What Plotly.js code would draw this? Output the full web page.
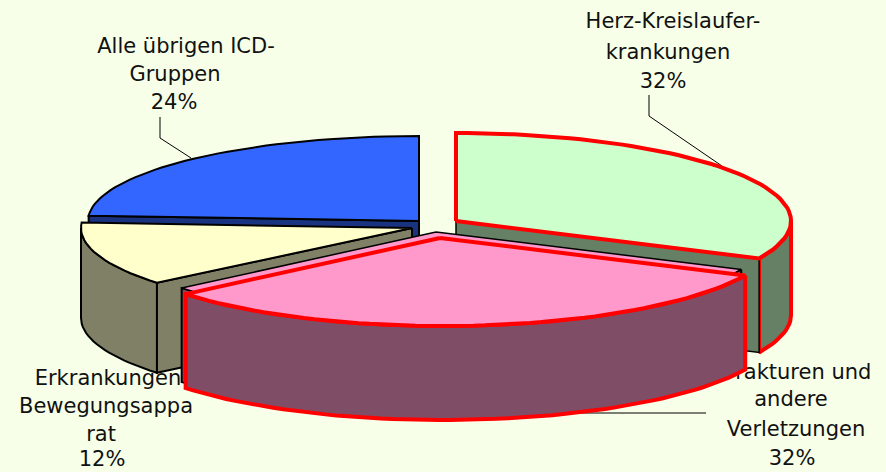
<!DOCTYPE html>
<html><head><meta charset="utf-8">
<script src="https://cdn.plot.ly/plotly-3.0.1.min.js"></script>
<style>html,body{margin:0;padding:0;background:#F7FFE8;overflow:hidden}</style>
</head><body><div id="chart" style="width:886px;height:472px"></div>
<script>
// Data
const categories = ['Herz-Kreislauferkrankungen', 'Frakturen und andere Verletzungen', 'Erkrankungen Bewegungsapparat', 'Alle übrigen ICD-Gruppen'];
const values = [32, 32, 12, 24];
const labelLines = [
  ['Herz-Kreislaufer-', 'krankungen', '32%'],
  ['Frakturen und', 'andere', 'Verletzungen', '32%'],
  ['Erkrankungen', 'Bewegungsappa', 'rat', '12%'],
  ['Alle übrigen ICD-', 'Gruppen', '24%']
];
const topColors = ['#CCFFCC', '#FF99CC', '#FFFFCC', '#3366FF'];
const sideColors = ['#668066', '#804D66', '#808066', '#1A3380'];

// Projection of the 3-D pie and placement of labels
const RX = [335, 334, 331, 331], RY = [88, 88, 86, 85], DEPTH = [94, 94, 90, 90];
const apex = [[456, 221], [440, 238], [412, 228], [419, 221]];
const arcShift = [0, 3, 0, 0];
const labelX = [[673, 668, 663], [798, 791, 796, 792], [108, 106, 101, 102], [186, 175, 174]];
const labelY = [[23, 54, 83], [374, 401, 431, 460], [380, 408, 436, 461], [48, 76, 104]];
const RED = '#FF0000', BLACK = '#000000';

const total = values.reduce((a, b) => a + b, 0);
let cum = 0;
const spans = values.map(v => { const s = cum / total * 360; cum += v; return [s, cum / total * 360]; });
const pt = (i, deg, dx = 0, dy = 0) => {
  const r = deg * Math.PI / 180;
  return [apex[i][0] + arcShift[i] + dx + RX[i] * Math.sin(r), apex[i][1] + dy - RY[i] * Math.cos(r)];
};
const arc = (i, a, b, dx, dy) => {
  const out = [], n = Math.max(2, Math.ceil(Math.abs(b - a) / 2));
  for (let k = 0; k <= n; k++) out.push(pt(i, a + (b - a) * k / n, dx, dy));
  return out;
};
const poly = (pts, fill, line, width, close = true) => {
  const p = close ? pts.concat([pts[0]]) : pts;
  return {
    type: 'scatter', mode: 'lines', x: p.map(q => q[0]), y: p.map(q => q[1]),
    fill: fill ? 'toself' : 'none', fillcolor: fill || 'rgba(0,0,0,0)',
    line: { color: line, width: width, shape: 'linear' }, hoverinfo: 'skip', showlegend: false
  };
};
const topFace = (i, line, w, dx = 0, dy = 0) =>
  poly([[apex[i][0] + dx, apex[i][1] + dy]].concat(arc(i, spans[i][0], spans[i][1], dx, dy)), topColors[i], line, w);
const sideFace = (i, line, w, dx = 0, dy = 0) => {
  const a = Math.max(spans[i][0], 90), b = Math.min(spans[i][1], 270);
  const t = arc(i, a, b, dx, dy);
  const bot = t.map(q => [q[0], q[1] + DEPTH[i]]).reverse();
  return poly(t.concat(bot), sideColors[i], line, w);
};
const cutFace = (i, deg, line, w) => {
  const c = pt(i, deg);
  return poly([apex[i], c, [c[0], c[1] + DEPTH[i]], [apex[i][0], apex[i][1] + DEPTH[i]]], sideColors[i], line, w);
};
const labelTrace = i => ({
  type: 'scatter', mode: 'text', x: labelX[i], y: labelY[i], text: labelLines[i],
  textposition: 'middle center', cliponaxis: false,
  textfont: { family: '"DejaVu Sans", sans-serif', size: 21, color: '#111111' },
  hoverinfo: 'skip', showlegend: false
});
const leader = (xs, ys) => ({
  type: 'scatter', mode: 'lines', x: xs, y: ys,
  line: { color: BLACK, width: 1 }, hoverinfo: 'skip', showlegend: false
});

const traces = [
  leader([160, 160, 191], [117, 138, 158]),
  leader([649, 649, 722], [95, 116, 166]),
  leader([560, 706], [413, 413]),
  labelTrace(0), labelTrace(1), labelTrace(3),
  // blue slice (back left)
  cutFace(3, spans[3][0], BLACK, 2),
  topFace(3, BLACK, 2),
  // yellow slice
  sideFace(2, BLACK, 2),
  cutFace(2, spans[2][0], BLACK, 2),
  topFace(2, BLACK, 2),
  // green slice
  sideFace(0, RED, 4),
  cutFace(0, spans[0][1], BLACK, 1.5),
  topFace(0, RED, 4),
  labelTrace(2),
  // pink slice: black copy behind, red on top
  sideFace(1, BLACK, 2, -4, -6),
  topFace(1, BLACK, 1.5, -4, -6),
  sideFace(1, RED, 4),
  topFace(1, RED, 4)
];
const hidden = { visible: false, fixedrange: true };
Plotly.newPlot('chart', traces, {
  width: 886, height: 472, margin: { l: 0, r: 0, t: 0, b: 0 },
  paper_bgcolor: '#F7FFE8', plot_bgcolor: '#F7FFE8', showlegend: false,
  xaxis: Object.assign({ range: [0, 886] }, hidden),
  yaxis: Object.assign({ range: [472, 0] }, hidden)
}, { displayModeBar: false, staticPlot: true });
</script></body></html>
